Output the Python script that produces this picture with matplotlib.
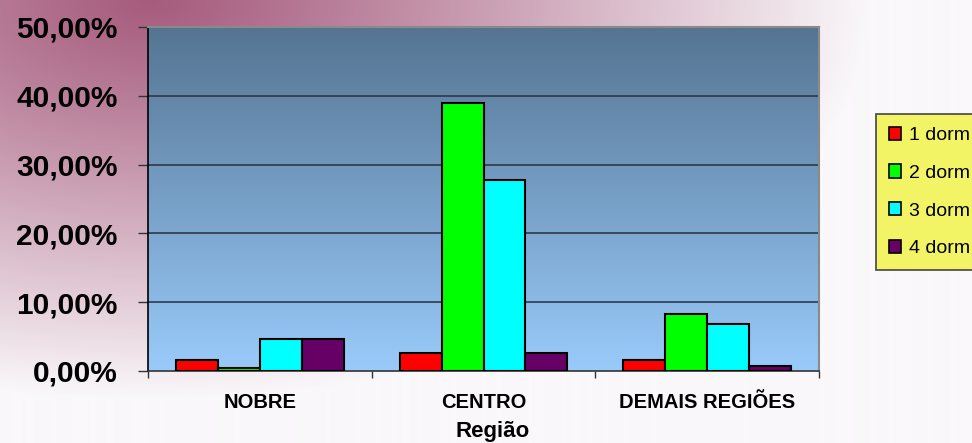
import numpy as np
import matplotlib
matplotlib.use('Agg')
import matplotlib.pyplot as plt
from matplotlib.patches import Patch
from matplotlib.ticker import FuncFormatter, FixedLocator

# values (percent)
regioes = ['NOBRE', 'CENTRO', 'DEMAIS REGIÕES']
series_labels = ['1 dorm', '2 dorm', '3 dorm', '4 dorm']
dorm1 = [1.55, 2.65, 1.55]
dorm2 = [0.5, 39.0, 8.25]
dorm3 = [4.7, 27.75, 6.8]
dorm4 = [4.7, 2.65, 0.68]
cores = ['#ff0000', '#00ff00', '#00ffff', '#660066']

plt.rcParams['font.family'] = ['Liberation Sans', 'DejaVu Sans']

W, H = 972, 443
fig = plt.figure(figsize=(W / 100, H / 100), dpi=100)

# figure background: mauve in the top-left corner fading to white
bg = fig.add_axes([0, 0, 1, 1], zorder=-10)
yy, xx = np.mgrid[0:H, 0:W]
d = np.sqrt(((xx - 150) / 720.0) ** 2 + (yy / 400.0) ** 2)
f = np.clip(d, 0, 1) ** 1.1
mauve = np.array([166, 92, 126]) / 255
branco = np.array([250, 248, 250]) / 255
img = mauve[None, None, :] * (1 - f[..., None]) + branco[None, None, :] * f[..., None]
bg.imshow(img, aspect='auto', extent=[0, 1, 0, 1], origin='upper')
bg.axis('off')

ax = fig.add_axes([148 / W, 1 - 371 / H, 671 / W, 344 / H])
ax.set_facecolor('none')

# plot area gradient, dark slate at top to light blue at bottom
topo = np.array([85, 116, 146]) / 255
base = np.array([153, 203, 250]) / 255
t = np.linspace(0, 1, 256)[:, None]
grad = topo[None, :] * (1 - t) + base[None, :] * t
ax.imshow(grad[:, None, :], aspect='auto', extent=[0, 1, 0, 1],
          transform=ax.transAxes, zorder=0, origin='upper')

x = np.arange(len(regioes))
largura = 0.1875
valores = [dorm1, dorm2, dorm3, dorm4]
for i, (vals, cor) in enumerate(zip(valores, cores)):
    ax.bar(x + (i - 1.5) * largura, vals, largura, color=cor,
           edgecolor='black', linewidth=1.5, zorder=3)

ax.set_xlim(-0.5, 2.5)
ax.set_ylim(0, 50)

for v in [10, 20, 30, 40]:
    ax.axhline(v, color='#2e3a48', linewidth=1.2, zorder=1)

ax.yaxis.set_major_locator(FixedLocator([0, 10, 20, 30, 40, 50]))
ax.yaxis.set_major_formatter(FuncFormatter(lambda v, p: f'{v:.2f}%'.replace('.', ',')))
ax.tick_params(axis='y', direction='out', length=7, width=1, color='#333333',
               pad=15, labelsize=21.5)
for lb in ax.get_yticklabels():
    lb.set_fontweight('bold')

ax.xaxis.set_major_locator(FixedLocator([-0.5, 0.5, 1.5, 2.5]))
ax.xaxis.set_major_formatter(FuncFormatter(lambda v, p: ''))
ax.xaxis.set_minor_locator(FixedLocator(x))
ax.set_xticks(x, regioes, minor=True)
ax.tick_params(axis='x', which='major', direction='out', length=5, width=1,
               color='#333333')
ax.tick_params(axis='x', which='minor', length=0, pad=16, labelsize=14.5)
for lb in ax.get_xticklabels(minor=True):
    lb.set_fontweight('bold')

ax.set_xlabel('Região', fontsize=16, fontweight='bold')
ax.xaxis.set_label_coords(0.514, -0.145)

ax.spines['left'].set_color('black')
ax.spines['left'].set_linewidth(1.2)
ax.spines['bottom'].set_color('#333333')
ax.spines['bottom'].set_linewidth(1.2)
ax.spines['top'].set_color('#8a8a8a')
ax.spines['top'].set_linewidth(1.5)
ax.spines['right'].set_color('#8a8a8a')
ax.spines['right'].set_linewidth(1.5)

handles = [Patch(facecolor=c, edgecolor='black', linewidth=1.2) for c in cores]
leg = fig.legend(handles, series_labels, loc='upper left',
                 bbox_to_anchor=(876 / W, 1 - 114 / H), borderaxespad=0,
                 fontsize=14, frameon=True, fancybox=False, framealpha=1,
                 facecolor='#f3f366', edgecolor='#444444',
                 handlelength=0.66, handleheight=0.66, handletextpad=0.4,
                 labelspacing=1.05, borderpad=0.65)
leg.get_frame().set_linewidth(1.2)

fig.savefig('out.png', dpi=100)
